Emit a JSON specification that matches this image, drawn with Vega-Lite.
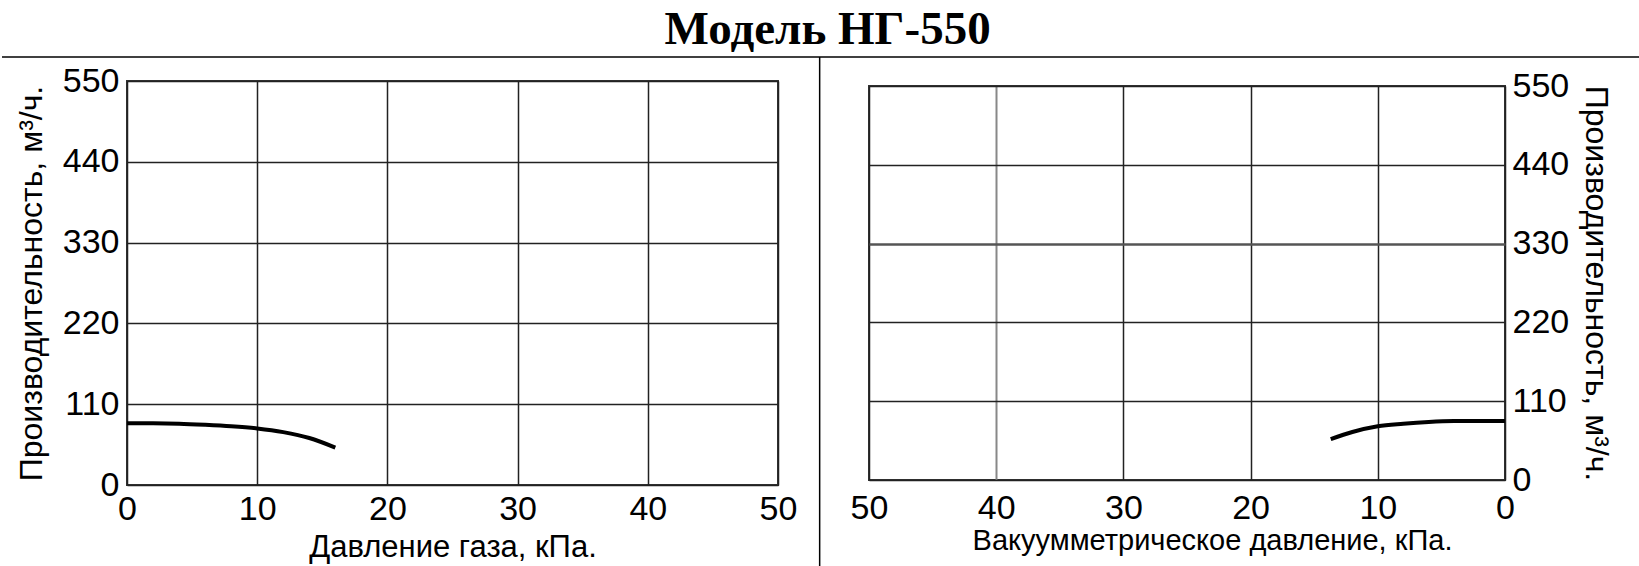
{
  "$schema": "https://vega.github.io/schema/vega-lite/v6.json",
  "padding": {"top": 6, "left": 0, "right": 0, "bottom": 0},
  "background": "white",
  "title": {"text": "Модель НГ-550", "font": "Liberation Serif", "fontSize": 47, "fontWeight": "bold", "color": "black", "anchor": "middle", "offset": 1, "dx": 6},
  "datasets": {
    "left": [
      {"p": 0, "q": 84}, {"p": 2, "q": 84}, {"p": 4, "q": 83.5}, {"p": 6, "q": 82}, {"p": 8, "q": 80},
      {"p": 10, "q": 77}, {"p": 12, "q": 72}, {"p": 14, "q": 64}, {"p": 16, "q": 51}
    ],
    "right": [
      {"p": 0, "q": 82.5}, {"p": 2, "q": 82.5}, {"p": 4, "q": 82.3}, {"p": 6, "q": 81}, {"p": 8, "q": 78.5},
      {"p": 10, "q": 75}, {"p": 12, "q": 67}, {"p": 13.7, "q": 57}
    ]
  },
  "spacing": 91,
  "bounds": "flush",
  "center": true,
  "config": {
    "view": {"stroke": "#333", "strokeWidth": 2},
    "axis": {
      "labelFont": "Liberation Sans", "labelFontSize": 34, "labelColor": "black",
      "titleFont": "Liberation Sans", "titleFontWeight": "normal", "titleColor": "black",
      "ticks": false, "tickSize": 0, "domain": false, "grid": true,
      "gridColor": "#222", "gridWidth": 1.5, "gridOpacity": 1,
      "labelFlush": false, "labelOverlap": false
    }
  },
  "hconcat": [
    {
      "width": 651,
      "height": 404,
      "layer": [
        {
          "data": {"name": "left"},
          "mark": {"type": "line", "color": "black", "strokeWidth": 4, "interpolate": "monotone"},
          "encoding": {
            "x": {"field": "p", "type": "quantitative", "scale": {"domain": [0, 50], "nice": false},
              "axis": {"values": [0, 10, 20, 30, 40, 50], "title": "Давление газа, кПа.", "titleFontSize": 31, "labelPadding": 7, "titlePadding": 6}},
            "y": {"field": "q", "type": "quantitative", "scale": {"domain": [0, 550], "nice": false},
              "axis": {"values": [0, 110, 220, 330, 440, 550], "title": "Производительность, м³/ч.", "titleFontSize": 32, "labelPadding": 8, "titlePadding": 14}}
          }
        },
        {
          "data": {"values": [{}]},
          "mark": {"type": "rule", "color": "black", "strokeWidth": 1.5},
          "encoding": {
            "x": {"datum": -9.6, "type": "quantitative"},
            "x2": {"datum": 116.3},
            "y": {"datum": 582.7, "type": "quantitative"}
          }
        },
        {
          "data": {"values": [{}]},
          "mark": {"type": "rule", "color": "black", "strokeWidth": 1.5},
          "encoding": {
            "x": {"datum": 53.2, "type": "quantitative"},
            "y": {"datum": 582.7, "type": "quantitative"},
            "y2": {"datum": -113}
          }
        }
      ]
    },
    {
      "width": 636,
      "height": 394,
      "data": {"name": "right"},
      "mark": {"type": "line", "color": "black", "strokeWidth": 4, "interpolate": "monotone"},
      "encoding": {
        "x": {"field": "p", "type": "quantitative", "scale": {"domain": [0, 50], "nice": false, "reverse": true},
          "axis": {"values": [0, 10, 20, 30, 40, 50], "title": "Вакуумметрическое давление, кПа.", "titleFontSize": 29, "labelPadding": 11, "titlePadding": 1, "titleX": 343,
            "gridColor": {"condition": {"test": "datum.value === 40", "value": "#888"}, "value": "#222"},
            "gridWidth": {"condition": {"test": "datum.value === 40", "value": 2}, "value": 1.5}}},
        "y": {"field": "q", "type": "quantitative", "scale": {"domain": [0, 550], "nice": false},
          "axis": {"orient": "right", "values": [0, 110, 220, 330, 440, 550], "title": "Производительность, м³/ч.", "titleFontSize": 32, "labelPadding": 7, "titlePadding": 10,
            "gridColor": {"condition": {"test": "datum.value === 330", "value": "#555"}, "value": "#222"},
            "gridWidth": {"condition": {"test": "datum.value === 330", "value": 2.5}, "value": 1.5}}}
      }
    }
  ]
}
